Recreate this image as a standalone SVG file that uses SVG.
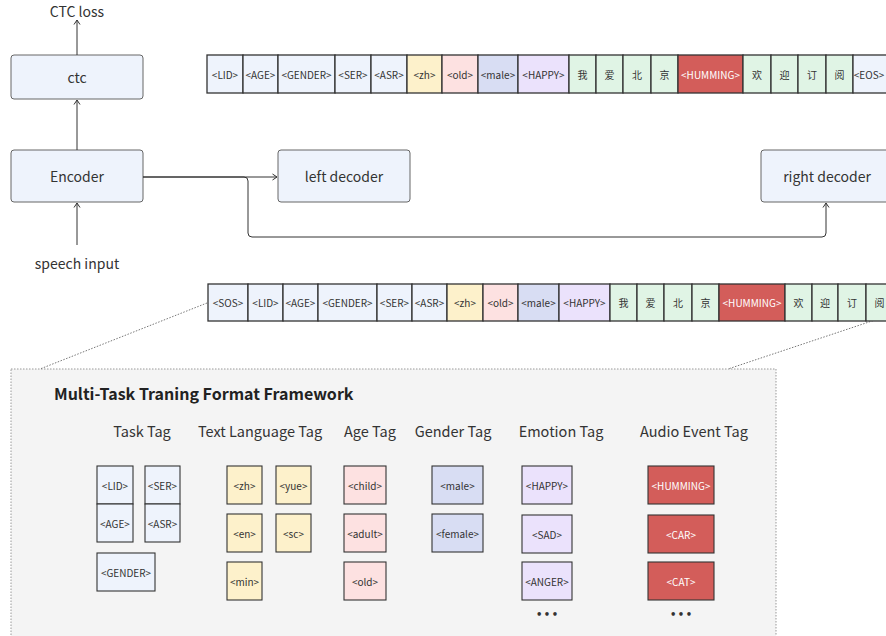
<svg xmlns="http://www.w3.org/2000/svg" width="886" height="636" viewBox="0 0 886 636">
<defs>
<marker id="arr" markerWidth="8" markerHeight="8" refX="6" refY="4" orient="auto" markerUnits="userSpaceOnUse">
<path d="M1.5,1 L6,4 L1.5,7" fill="none" stroke="#333" stroke-width="1"/>
</marker>
</defs>
<style>
text{font-family:"Noto Sans CJK SC","Noto Sans",sans-serif;fill:#333;text-anchor:middle;dominant-baseline:central}
.node rect{fill:#eef3fc;stroke:#666;stroke-width:1}
.node text{font-size:14px}
.lbl{font-size:14px}
.c rect{stroke:#333;stroke-width:1.3}
.c text{font-size:10px}
.b{fill:#eef3fc}.y{fill:#fdf1cb}.p{fill:#fde1e1}.m{fill:#d8ddf3}.u{fill:#ebe2fc}.g{fill:#e0f4e5}.r{fill:#d35d5a}
text.w{fill:#fff}
.t rect{stroke:#333;stroke-width:1.1}
.t text{font-size:10px}
.cat{font-size:14.5px}
.more{font-family:"DejaVu Sans",sans-serif;font-size:12px;font-weight:bold;letter-spacing:1.5px}
.conn path{fill:none;stroke:#333;stroke-width:1}
.dot{fill:none;stroke:#777;stroke-width:1;stroke-dasharray:1.5 1.5}
</style>
<rect x="0" y="0" width="886" height="636" fill="#fff"/>

<!-- Framework box -->
<g id="framework">
<rect x="11" y="369" width="765" height="280" fill="#f4f4f4" stroke="#999" stroke-width="1" stroke-dasharray="1.5 1.5"/>
<text x="54" y="393" style="font-size:16px;font-weight:bold;text-anchor:start;fill:#222">Multi-Task Traning Format Framework</text>
<text class="cat" x="142" y="430">Task Tag</text>
<text class="cat" x="260" y="430">Text Language Tag</text>
<text class="cat" x="370" y="430">Age Tag</text>
<text class="cat" x="453" y="430">Gender Tag</text>
<text class="cat" x="561" y="430">Emotion Tag</text>
<text class="cat" x="694" y="430">Audio Event Tag</text>
</g>

<g class="dotlines">
<path class="dot" d="M207,303 L40,369"/>
<path class="dot" d="M893,314 L728,369"/>
</g>

<!-- Nodes -->
<g id="ctc" class="node"><rect x="11" y="55" width="132" height="44" rx="3"/><text x="77" y="77">ctc</text></g>
<g id="encoder" class="node"><rect x="11" y="150" width="132" height="52" rx="3"/><text x="77" y="176">Encoder</text></g>
<g id="left-decoder" class="node"><rect x="278" y="150" width="132" height="52" rx="3"/><text x="344" y="176">left decoder</text></g>
<g id="right-decoder" class="node"><rect x="761" y="150" width="132" height="52" rx="3"/><text x="827" y="176">right decoder</text></g>
<g id="ctc-loss"><text class="lbl" x="77" y="11">CTC loss</text></g>
<g id="speech-input"><text class="lbl" x="77" y="263">speech input</text></g>

<!-- Connectors -->
<g id="connectors" class="conn">
<path d="M77,55 V20" marker-end="url(#arr)"/>
<path d="M77,150 V100" marker-end="url(#arr)"/>
<path d="M77,245 V203" marker-end="url(#arr)"/>
<path d="M143,177 H277" marker-end="url(#arr)"/>
<path d="M143,177 H244 Q248,177 248,181 V233 Q248,237 252,237 H822 Q826,237 826,233 V203" marker-end="url(#arr)"/>
</g>

<!-- Top token row -->
<g id="target-row" class="c">
<rect class="b" x="207" y="55" width="36" height="38"/><text x="225" y="74">&lt;LID&gt;</text>
<rect class="b" x="243" y="55" width="35" height="38"/><text x="260.5" y="74">&lt;AGE&gt;</text>
<rect class="b" x="278" y="55" width="57" height="38"/><text x="306.5" y="74">&lt;GENDER&gt;</text>
<rect class="b" x="335" y="55" width="36" height="38"/><text x="353" y="74">&lt;SER&gt;</text>
<rect class="b" x="371" y="55" width="36" height="38"/><text x="389" y="74">&lt;ASR&gt;</text>
<rect class="y" x="407" y="55" width="35" height="38"/><text x="424.5" y="74">&lt;zh&gt;</text>
<rect class="p" x="442" y="55" width="36" height="38"/><text x="460" y="74">&lt;old&gt;</text>
<rect class="m" x="478" y="55" width="40" height="38"/><text x="498" y="74">&lt;male&gt;</text>
<rect class="u" x="518" y="55" width="51" height="38"/><text x="543.5" y="74">&lt;HAPPY&gt;</text>
<rect class="g" x="569" y="55" width="27" height="38"/><text x="582.5" y="74">我</text>
<rect class="g" x="596" y="55" width="27" height="38"/><text x="609.5" y="74">爱</text>
<rect class="g" x="623" y="55" width="28" height="38"/><text x="637" y="74">北</text>
<rect class="g" x="651" y="55" width="27" height="38"/><text x="664.5" y="74">京</text>
<rect class="r" x="678" y="55" width="65" height="38"/><text class="w" x="710.5" y="74">&lt;HUMMING&gt;</text>
<rect class="g" x="743" y="55" width="28" height="38"/><text x="757" y="74">欢</text>
<rect class="g" x="771" y="55" width="27" height="38"/><text x="784.5" y="74">迎</text>
<rect class="g" x="798" y="55" width="28" height="38"/><text x="812" y="74">订</text>
<rect class="g" x="826" y="55" width="27" height="38"/><text x="839.5" y="74">阅</text>
<rect class="b" x="853" y="55" width="40" height="38"/><text x="869" y="74">&lt;EOS&gt;</text>
</g>

<!-- Bottom token row -->
<g id="input-row" class="c">
<rect class="b" x="208" y="284" width="40" height="37"/><text x="228" y="302.5">&lt;SOS&gt;</text>
<rect class="b" x="248" y="284" width="35" height="37"/><text x="265.5" y="302.5">&lt;LID&gt;</text>
<rect class="b" x="283" y="284" width="35" height="37"/><text x="300.5" y="302.5">&lt;AGE&gt;</text>
<rect class="b" x="318" y="284" width="59" height="37"/><text x="347.5" y="302.5">&lt;GENDER&gt;</text>
<rect class="b" x="377" y="284" width="35" height="37"/><text x="394.5" y="302.5">&lt;SER&gt;</text>
<rect class="b" x="412" y="284" width="35" height="37"/><text x="429.5" y="302.5">&lt;ASR&gt;</text>
<rect class="y" x="447" y="284" width="36" height="37"/><text x="465" y="302.5">&lt;zh&gt;</text>
<rect class="p" x="483" y="284" width="35" height="37"/><text x="500.5" y="302.5">&lt;old&gt;</text>
<rect class="m" x="518" y="284" width="41" height="37"/><text x="538.5" y="302.5">&lt;male&gt;</text>
<rect class="u" x="559" y="284" width="51" height="37"/><text x="584.5" y="302.5">&lt;HAPPY&gt;</text>
<rect class="g" x="610" y="284" width="27" height="37"/><text x="623.5" y="302.5">我</text>
<rect class="g" x="637" y="284" width="27" height="37"/><text x="650.5" y="302.5">爱</text>
<rect class="g" x="664" y="284" width="28" height="37"/><text x="678" y="302.5">北</text>
<rect class="g" x="692" y="284" width="27" height="37"/><text x="705.5" y="302.5">京</text>
<rect class="r" x="719" y="284" width="66" height="37"/><text class="w" x="752" y="302.5">&lt;HUMMING&gt;</text>
<rect class="g" x="785" y="284" width="27" height="37"/><text x="798.5" y="302.5">欢</text>
<rect class="g" x="812" y="284" width="26" height="37"/><text x="825" y="302.5">迎</text>
<rect class="g" x="838" y="284" width="28" height="37"/><text x="852" y="302.5">订</text>
<rect class="g" x="866" y="284" width="27" height="37"/><text x="879.5" y="302.5">阅</text>
</g>

<!-- Tag groups -->
<g id="task-tags" class="t">
<rect class="b" x="97" y="466" width="36" height="38"/><text x="115" y="485">&lt;LID&gt;</text>
<rect class="b" x="145" y="466" width="35" height="38"/><text x="162.5" y="485">&lt;SER&gt;</text>
<rect class="b" x="97" y="504" width="36" height="38"/><text x="115" y="523">&lt;AGE&gt;</text>
<rect class="b" x="145" y="504" width="35" height="38"/><text x="162.5" y="523">&lt;ASR&gt;</text>
<rect class="b" x="97" y="553" width="58" height="38"/><text x="126" y="572">&lt;GENDER&gt;</text>
</g>
<g id="language-tags" class="t">
<rect class="y" x="227" y="466" width="35" height="38"/><text x="244.5" y="485">&lt;zh&gt;</text>
<rect class="y" x="276" y="466" width="35" height="38"/><text x="293.5" y="485">&lt;yue&gt;</text>
<rect class="y" x="227" y="514" width="35" height="38"/><text x="244.5" y="533">&lt;en&gt;</text>
<rect class="y" x="276" y="514" width="35" height="38"/><text x="293.5" y="533">&lt;sc&gt;</text>
<rect class="y" x="227" y="562" width="35" height="38"/><text x="244.5" y="581">&lt;min&gt;</text>
</g>
<g id="age-tags" class="t">
<rect class="p" x="344" y="466" width="42" height="38"/><text x="365" y="485">&lt;child&gt;</text>
<rect class="p" x="344" y="514" width="42" height="38"/><text x="365" y="533">&lt;adult&gt;</text>
<rect class="p" x="344" y="562" width="42" height="38"/><text x="365" y="581">&lt;old&gt;</text>
</g>
<g id="gender-tags" class="t">
<rect class="m" x="432" y="466" width="51" height="38"/><text x="457.5" y="485">&lt;male&gt;</text>
<rect class="m" x="432" y="514" width="51" height="38"/><text x="457.5" y="533">&lt;female&gt;</text>
</g>
<g id="emotion-tags" class="t">
<rect class="u" x="522" y="466" width="50" height="38"/><text x="547" y="485">&lt;HAPPY&gt;</text>
<rect class="u" x="522" y="515" width="50" height="38"/><text x="547" y="534">&lt;SAD&gt;</text>
<rect class="u" x="522" y="562" width="50" height="38"/><text x="547" y="581">&lt;ANGER&gt;</text>
<text class="more" x="547.8" y="614">•••</text>
</g>
<g id="audio-event-tags" class="t">
<rect class="r" x="648" y="466" width="66" height="38"/><text class="w" x="681" y="485">&lt;HUMMING&gt;</text>
<rect class="r" x="648" y="515" width="66" height="38"/><text class="w" x="681" y="534">&lt;CAR&gt;</text>
<rect class="r" x="648" y="562" width="66" height="38"/><text class="w" x="681" y="581">&lt;CAT&gt;</text>
<text class="more" x="681.8" y="614">•••</text>
</g>
</svg>
